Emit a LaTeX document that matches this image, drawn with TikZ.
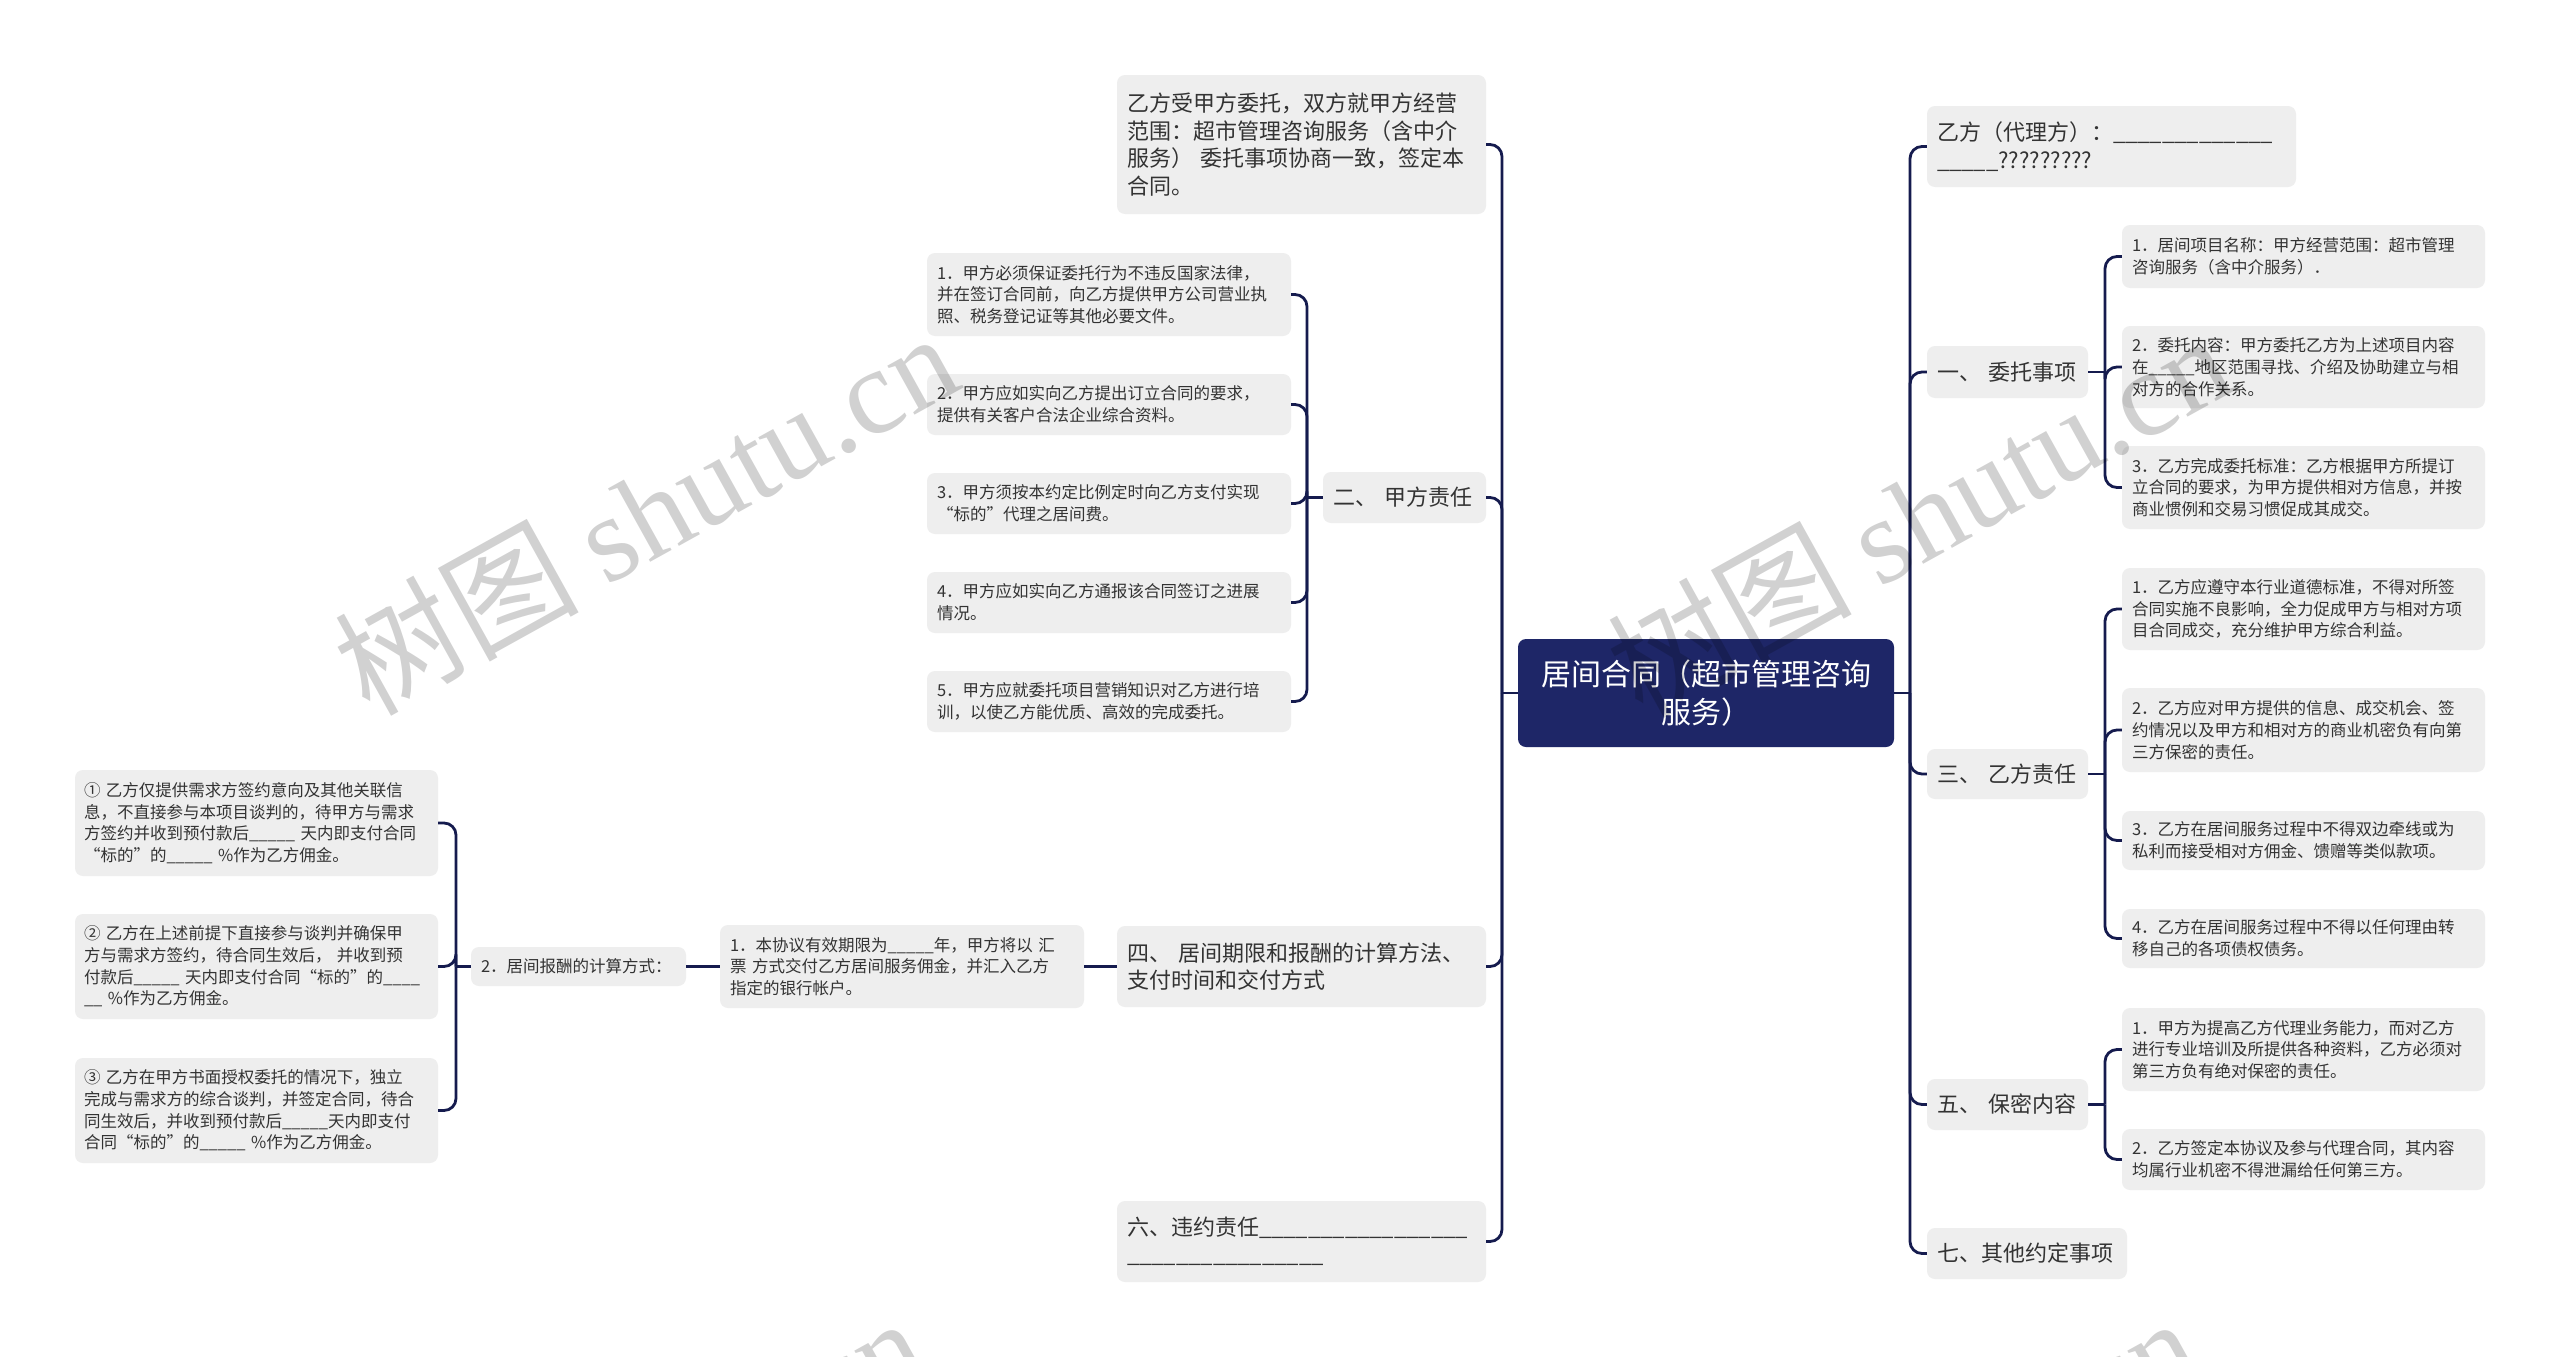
\documentclass[tikz,border=0pt]{standalone}
\usepackage{fontspec}
\setmainfont{Noto Sans CJK SC}
\newfontfamily\wmlatin{Liberation Serif}
\definecolor{linkc}{HTML}{151B4E}
\definecolor{centerc}{HTML}{1E2667}
\definecolor{boxc}{HTML}{EEEEEE}
\definecolor{txtc}{HTML}{333333}
\tikzset{
  base/.style={fill=boxc, rounded corners=8pt, inner xsep=10pt, inner ysep=0pt, align=left, text=txtc},
  sm/.style={base, font=\fontsize{16.5pt}{21.7pt}\selectfont},
  md/.style={base, font=\fontsize{22pt}{27.5pt}\selectfont},
  link/.style={draw=linkc, line width=2.8pt, rounded corners=12pt},
  wm/.style={rotate=29, text=black, text opacity=0.18, font=\fontsize{122pt}{124pt}\selectfont, inner sep=0pt}
}
\begin{document}
\begin{tikzpicture}[x=1pt,y=-1pt]
\useasboundingbox[fill=white] (0,0) rectangle (2560,1357);
% centre
\node[base, fill=centerc, text=white, align=center, text width=356pt, minimum height=108pt,
      font=\fontsize{30pt}{38pt}\selectfont] (ctr) at (1706,693) {居间合同（超市管理咨询\\服务）};
% left level 1
\node[md, text width=349pt, minimum height=139pt] (lA) at (1301.5,144.5) {乙方受甲方委托，双方就甲方经营\\范围：超市管理咨询服务（含中介\\服务） 委托事项协商一致，签定本\\合同。};
\node[md, text width=143pt, minimum height=51pt] (lB) at (1404.5,497.5) {二、 甲方责任};
\node[md, text width=349pt, minimum height=81pt] (lC) at (1301.5,966.5) {四、 居间期限和报酬的计算方法、\\支付时间和交付方式};
\node[md, text width=349pt, minimum height=81pt] (lD) at (1301.5,1241.5) {六、违约责任\_\_\_\_\_\_\_\_\_\_\_\_\_\_\_\_\_\\\_\_\_\_\_\_\_\_\_\_\_\_\_\_\_\_};
% children of 二
\node[sm, text width=344pt, minimum height=83pt] (b1) at (1109,294.5) {1．甲方必须保证委托行为不违反国家法律，\\并在签订合同前，向乙方提供甲方公司营业执\\照、税务登记证等其他必要文件。};
\node[sm, text width=344pt, minimum height=61pt] (b2) at (1109,404.5) {2．甲方应如实向乙方提出订立合同的要求，\\提供有关客户合法企业综合资料。};
\node[sm, text width=344pt, minimum height=61pt] (b3) at (1109,503.5) {3．甲方须按本约定比例定时向乙方支付实现\\“标的”代理之居间费。};
\node[sm, text width=344pt, minimum height=61pt] (b4) at (1109,602.5) {4．甲方应如实向乙方通报该合同签订之进展\\情况。};
\node[sm, text width=344pt, minimum height=61pt] (b5) at (1109,701.5) {5．甲方应就委托项目营销知识对乙方进行培\\训，以使乙方能优质、高效的完成委托。};
% chain of 四
\node[sm, text width=344pt, minimum height=83pt] (c1) at (902,966.5) {1．本协议有效期限为\_\_\_\_\_年，甲方将以 汇\\票 方式交付乙方居间服务佣金，并汇入乙方\\指定的银行帐户。};
\node[sm, text width=195pt, minimum height=39pt] (c2) at (578.5,966.5) {2．居间报酬的计算方式：};
\node[sm, text width=345pt, inner xsep=9pt, minimum height=106pt] (d1) at (256.5,823) {① 乙方仅提供需求方签约意向及其他关联信\\息，不直接参与本项目谈判的，待甲方与需求\\方签约并收到预付款后\_\_\_\_\_ 天内即支付合同\\“标的”的\_\_\_\_\_ \%作为乙方佣金。};
\node[sm, text width=345pt, inner xsep=9pt, minimum height=105pt] (d2) at (256.5,966.5) {② 乙方在上述前提下直接参与谈判并确保甲\\方与需求方签约，待合同生效后， 并收到预\\付款后\_\_\_\_\_ 天内即支付合同“标的”的\_\_\_\_\\\_\_ \%作为乙方佣金。};
\node[sm, text width=345pt, inner xsep=9pt, minimum height=105pt] (d3) at (256.5,1110.5) {③ 乙方在甲方书面授权委托的情况下，独立\\完成与需求方的综合谈判，并签定合同，待合\\同生效后，并收到预付款后\_\_\_\_\_天内即支付\\合同“标的”的\_\_\_\_\_ \%作为乙方佣金。};
% right level 1
\node[md, text width=349pt, minimum height=81pt] (rA) at (2111.5,146.5) {乙方（代理方）：\_\_\_\_\_\_\_\_\_\_\_\_\_\\\_\_\_\_\_?????????};
\node[md, text width=141pt, minimum height=52pt] (rB) at (2007.5,372) {一、 委托事项};
\node[md, text width=141pt, minimum height=50pt] (rC) at (2007.5,774) {三、 乙方责任};
\node[md, text width=141pt, minimum height=51pt] (rD) at (2007.5,1104.5) {五、 保密内容};
\node[md, text width=180pt, minimum height=51pt] (rE) at (2027,1253.5) {七、其他约定事项};
% right children
\node[sm, text width=343pt, minimum height=63pt] (e1) at (2303.5,256.5) {1．居间项目名称：甲方经营范围：超市管理\\咨询服务（含中介服务）．};
\node[sm, text width=343pt, minimum height=82pt] (e2) at (2303.5,367) {2．委托内容：甲方委托乙方为上述项目内容\\在\_\_\_\_\_地区范围寻找、介绍及协助建立与相\\对方的合作关系。};
\node[sm, text width=343pt, minimum height=83pt] (e3) at (2303.5,487.5) {3．乙方完成委托标准：乙方根据甲方所提订\\立合同的要求，为甲方提供相对方信息，并按\\商业惯例和交易习惯促成其成交。};
\node[sm, text width=343pt, minimum height=82pt] (f1) at (2303.5,609) {1．乙方应遵守本行业道德标准，不得对所签\\合同实施不良影响，全力促成甲方与相对方项\\目合同成交，充分维护甲方综合利益。};
\node[sm, text width=343pt, minimum height=84pt] (f2) at (2303.5,730) {2．乙方应对甲方提供的信息、成交机会、签\\约情况以及甲方和相对方的商业机密负有向第\\三方保密的责任。};
\node[sm, text width=343pt, minimum height=59pt] (f3) at (2303.5,840.5) {3．乙方在居间服务过程中不得双边牵线或为\\私利而接受相对方佣金、馈赠等类似款项。};
\node[sm, text width=343pt, minimum height=59pt] (f4) at (2303.5,938.5) {4．乙方在居间服务过程中不得以任何理由转\\移自己的各项债权债务。};
\node[sm, text width=343pt, minimum height=83pt] (g1) at (2303.5,1049.5) {1．甲方为提高乙方代理业务能力，而对乙方\\进行专业培训及所提供各种资料，乙方必须对\\第三方负有绝对保密的责任。};
\node[sm, text width=343pt, minimum height=61pt] (g2) at (2303.5,1159.5) {2．乙方签定本协议及参与代理合同，其内容\\均属行业机密不得泄漏给任何第三方。};
% junctions
\coordinate (lj) at (1502,693);
\coordinate (rj) at (1910,693);
\coordinate (bj) at (1307,497.5);
\coordinate (dj) at (456,966.5);
\coordinate (ej) at (2105,372);
\coordinate (fj) at (2105,774);
\coordinate (gj) at (2105,1104.5);
% links
\draw[link] (ctr.west) -- (lj);
\draw[link] (ctr.east) -- (rj);
\foreach \n in {lA,lB,lC,lD} \draw[link] (lj) |- (\n.east);
\foreach \n in {rA,rB,rC,rD,rE} \draw[link] (rj) |- (\n.west);
\draw[link] (lB.west) -- (bj);
\foreach \n in {b1,b2,b3,b4,b5} \draw[link] (bj) |- (\n.east);
\draw[link] (lC.west) -- (c1.east);
\draw[link] (c1.west) -- (c2.east);
\draw[link] (c2.west) -- (dj);
\foreach \n in {d1,d2,d3} \draw[link] (dj) |- (\n.east);
\draw[link] (rB.east) -- (ej);
\foreach \n in {e1,e2,e3} \draw[link] (ej) |- (\n.west);
\draw[link] (rC.east) -- (fj);
\foreach \n in {f1,f2,f3,f4} \draw[link] (fj) |- (\n.west);
\draw[link] (rD.east) -- (gj);
\foreach \n in {g1,g2} \draw[link] (gj) |- (\n.west);
% watermarks
\begin{scope}
\clip (0,0) rectangle (2560,1357);
\node[wm] (wm1) at (645,512) {树图 {\wmlatin shutu.cn}};
\node[wm] (wm2) at (1918,514) {树图 {\wmlatin shutu.cn}};
\node[wm] (wm3) at (612,1497) {树图 {\wmlatin shutu.cn}};
\node[wm] (wm4) at (1885,1497) {树图 {\wmlatin shutu.cn}};
\end{scope}
\end{tikzpicture}
\end{document}
